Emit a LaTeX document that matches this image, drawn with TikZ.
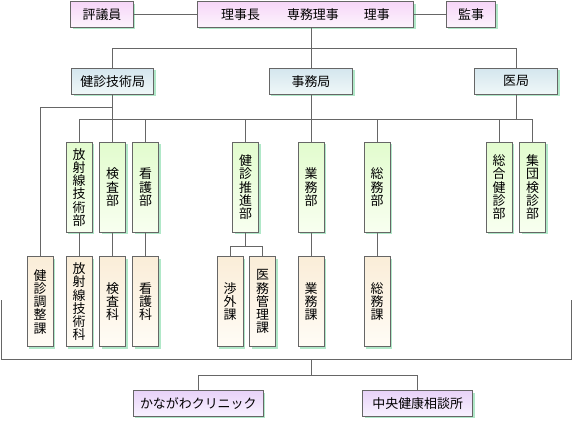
\documentclass[tikz,border=0pt]{standalone}
\usepackage{fontspec}
\setmainfont{Noto Sans CJK JP}
\usetikzlibrary{shadows}
\definecolor{linegray}{HTML}{666666}
\definecolor{shadowgreen}{HTML}{B0E8C8}
\definecolor{pinktop}{HTML}{F6D6F8}
\definecolor{pinkbot}{HTML}{FDF4FD}
\definecolor{bluetop}{HTML}{D4E6EE}
\definecolor{bluebot}{HTML}{F0F8F8}
\definecolor{greentop}{HTML}{E2FCCE}
\definecolor{greenbot}{HTML}{F8FFF0}
\definecolor{creamtop}{HTML}{FAEDD8}
\definecolor{creambot}{HTML}{FFFCF6}
\definecolor{lilactop}{HTML}{E8D2F8}
\definecolor{lilacbot}{HTML}{F8F2FF}
\tikzset{
	box/.style={draw=linegray,line width=0.8bp,inner sep=0pt,font=\fontsize{13}{13.3}\selectfont,
		drop shadow={shadow xshift=2bp,shadow yshift=-2bp,fill=shadowgreen,opacity=1,draw=none}},
	board/.style={box,top color=pinktop,bottom color=pinkbot,minimum height=25.6bp},
	kyoku/.style={box,top color=bluetop,bottom color=bluebot,minimum height=26bp},
	bu/.style={box,top color=greentop,bottom color=greenbot,minimum width=26bp,minimum height=90bp,align=center},
	ka/.style={box,top color=creamtop,bottom color=creambot,minimum width=26bp,minimum height=90bp,align=center},
	annex/.style={box,top color=lilactop,bottom color=lilacbot,minimum height=25.6bp},
	conn/.style={draw=linegray,line width=0.8bp}
}
\begin{document}
\begin{tikzpicture}[x=1bp,y=-1bp]
						\useasboundingbox (0,0) rectangle (573,420);
						\node[board,minimum width=62.6bp] (hyogi) at (102,14.5){評議員};
						\node[board,minimum width=216.6bp] (riji) at (305.5,14.5){理事長\hspace{27bp}専務理事\hspace{25bp}理事};
						\node[board,minimum width=49.4bp] (kanji) at (471,14.5){監事};
						
						\node[kyoku,minimum width=82bp] (gikyoku) at (112.7,81.3){健診技術局};
						\node[kyoku,minimum width=83.6bp] (jimukyoku) at (311,81.3){事務局};
						\node[kyoku,minimum width=83.4bp] (ikyoku) at (516,81.3){医局};
						
						\node[bu] (hosha) at (79,187.2){放\\射\\線\\技\\術\\部};
						\node[bu] (kensa) at (112.5,187.2){検\\査\\部};
						\node[bu] (kango) at (145.5,187.2){看\\護\\部};
						\node[bu] (suishin) at (245.5,187.2){健\\診\\推\\進\\部};
						\node[bu] (gyomu) at (311,187.2){業\\務\\部};
						\node[bu] (somu) at (377,187.2){総\\務\\部};
						\node[bu] (sogo) at (499,187.2){総\\合\\健\\診\\部};
						\node[bu] (shudan) at (532.5,187.2){集\\団\\検\\診\\部};
						
						\node[ka] (chosei) at (40,301.7){健\\診\\調\\整\\課};
						\node[ka] (hoshaka) at (79,301.7){放\\射\\線\\技\\術\\科};
						\node[ka] (kensaka) at (112.5,301.7){検\\査\\科};
						\node[ka] (kangoka) at (145.5,301.7){看\\護\\科};
						\node[ka] (shogai) at (230,301.7){渉\\外\\課};
						\node[ka] (imu) at (262.5,301.7){医\\務\\管\\理\\課};
						\node[ka] (gyomuka) at (311,301.7){業\\務\\課};
						\node[ka] (somuka) at (377,301.7){総\\務\\課};
						
						\node[annex,minimum width=130bp] (clinic) at (198.3,403.5){かながわクリニック};
						\node[annex,minimum width=110bp] (soudan) at (417.7,403.5){中央健康相談所};
						
						\coordinate (tbus) at (311,48.3);
						\coordinate (bus) at (311,119.3);
						\coordinate (fl) at (1.7,300);
						\coordinate (fr) at (571,300);
						\coordinate (fbot) at (311,359);
						
						\draw[conn] (hyogi) -- (riji);
						\draw[conn] (riji) -- (kanji);
						\draw[conn] (riji.south -| jimukyoku.north) -- (jimukyoku.north);
						\draw[conn] (gikyoku.north) |- (tbus -| ikyoku.north) -- (ikyoku.north);
						
						\draw[conn] (gikyoku.south) -- (gikyoku.south |- bus);
						\draw[conn] (jimukyoku.south) -- (jimukyoku.south |- bus);
						\draw[conn] (ikyoku.south) -- (ikyoku.south |- bus);
						\draw[conn] (hosha.north) |- (bus -| shudan.north) -- (shudan.north);
						\draw[conn] (kensa.north) -- (kensa.north |- bus);
						\draw[conn] (kango.north) -- (kango.north |- bus);
						\draw[conn] (suishin.north) -- (suishin.north |- bus);
						\draw[conn] (gyomu.north) -- (gyomu.north |- bus);
						\draw[conn] (somu.north) -- (somu.north |- bus);
						\draw[conn] (sogo.north) -- (sogo.north |- bus);
						\draw[conn] (gikyoku.south) -- ++(0,13) -| (chosei.north);
						
						\draw[conn] (hosha) -- (hoshaka);
						\draw[conn] (kensa) -- (kensaka);
						\draw[conn] (kango) -- (kangoka);
						\draw[conn] (gyomu) -- (gyomuka);
						\draw[conn] (somu) -- (somuka);
						\draw[conn] (suishin.south) -- ++(0,13.7) -| (shogai.north);
						\draw[conn] (suishin.south) -- ++(0,13.7) -| (imu.north);
						
						\draw[conn] (fl) |- (fbot) -| (fr);
						\draw[conn] (fbot) -- ++(0,16.7) -| (clinic.north);
						\draw[conn] (fbot) -- ++(0,16.7) -| (soudan.north);
					\end{tikzpicture}
\end{document}
